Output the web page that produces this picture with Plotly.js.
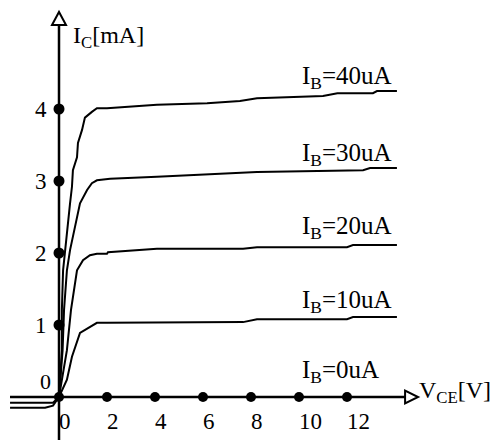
<!DOCTYPE html>
<html>
<head>
<meta charset="utf-8">
<script src="https://cdn.plot.ly/plotly-3.0.1.min.js"></script>
<style>
  html, body { margin: 0; padding: 0; background: #fff; }
  #chart { width: 493px; height: 440px; }
</style>
</head>
<body>
<div id="chart"></div>
<script>
// output characteristics, VCE [V] vs IC [mA]
const vce40 = [-2.04, -0.58, -0.25, 0, 0.12, 0.12, 0.17, 0.25, 0.46, 0.54, 0.58, 0.75, 0.79, 0.96, 1.08, 1.37, 1.58, 2.0, 4.08, 6.17, 7.54, 8.25, 11.0, 11.6, 13.08, 13.25, 14.08];
const ic40 = [-0.15, -0.15, -0.12, 0, 0.65, 1.21, 1.76, 2.04, 2.69, 2.92, 3.15, 3.33, 3.53, 3.71, 3.88, 3.96, 4.01, 4.01, 4.06, 4.08, 4.11, 4.15, 4.18, 4.22, 4.22, 4.25, 4.25];

const vce30 = [-2.04, -0.25, 0, 0.15, 0.21, 0.33, 0.46, 0.875, 1.17, 1.37, 1.58, 2.13, 4.08, 7.54, 8.25, 12.67, 12.96, 14.08];
const ic30 = [-0.08, -0.08, 0, 0.65, 1.21, 1.76, 2.04, 2.69, 2.875, 2.97, 3.01, 3.03, 3.06, 3.11, 3.125, 3.15, 3.18, 3.18];

const vce20 = [-2.04, 0, 0.33, 0.5, 0.75, 1.0, 1.29, 1.58, 2.0, 2.04, 4.08, 7.67, 8.25, 12.0, 12.25, 14.08];
const ic20 = [0, 0, 0.65, 1.21, 1.76, 1.9, 1.97, 1.99, 1.99, 2.01, 2.06, 2.06, 2.08, 2.08, 2.11, 2.11];

const vce10 = [-2.04, 0, 0.33, 0.54, 0.875, 1.21, 1.58, 2.0, 3.1, 4.08, 7.67, 8.25, 12.0, 12.25, 14.08];
const ic10 = [0, 0, 0.24, 0.56, 0.89, 0.96, 1.03, 1.03, 1.03, 1.04, 1.04, 1.08, 1.08, 1.11, 1.11];

const vce0 = [-2.04, 14.08];
const ic0 = [0, 0];

const curveNames = ['I<sub>B</sub>=40uA', 'I<sub>B</sub>=30uA', 'I<sub>B</sub>=20uA', 'I<sub>B</sub>=10uA', 'I<sub>B</sub>=0uA'];
const xTicks = [0, 2, 4, 6, 8, 10, 12];
const yTicks = [1, 2, 3, 4];

const serif = 'Liberation Serif, Times New Roman, serif';
const ink = '#000';

// pixel layout: origin at (59, 397), 24 px per volt, 72 px per mA
const xRange = [-59 / 24, 434 / 24];
const yRange = [-43 / 72, 397 / 72];
const xAxisEnd = 14.42;
const yAxisEnd = 5.167;

const curve = (x, y) => ({
  x, y,
  mode: 'lines',
  line: { color: ink, width: 2 },
  hoverinfo: 'skip'
});

const traces = [
  curve(vce40, ic40),
  curve(vce30, ic30),
  curve(vce20, ic20),
  curve(vce10, ic10),
  curve(vce0, ic0),
  {
    x: xTicks,
    y: xTicks.map(() => 0),
    mode: 'markers',
    marker: { color: ink, size: 10 },
    hoverinfo: 'skip'
  },
  {
    x: yTicks.map(() => 0),
    y: yTicks,
    mode: 'markers',
    marker: { color: ink, size: 11 },
    hoverinfo: 'skip'
  }
];

// curve labels sit at the right end, above each line
const labelY = [4.44, 3.37, 2.35, 1.32, 0.35];
const annotations = curveNames.map((t, i) => ({
  text: t,
  x: 10.05,
  y: labelY[i],
  xanchor: 'left',
  yanchor: 'middle',
  showarrow: false,
  font: { family: serif, size: 25, color: ink }
}));

// y tick numbers, right of them the dots on the axis
yTicks.forEach(v => annotations.push({
  text: String(v),
  x: 0, y: v,
  xanchor: 'right', yanchor: 'middle',
  xshift: -10,
  showarrow: false,
  font: { family: serif, size: 23, color: ink }
}));

annotations.push(
  {
    text: 'I<sub>C</sub>[mA]',
    x: 0.5, y: 5.0,
    xanchor: 'left', yanchor: 'middle',
    showarrow: false,
    font: { family: serif, size: 24, color: ink }
  },
  {
    text: 'V<sub>CE</sub>[V]',
    x: 14.92, y: 0.07,
    xanchor: 'left', yanchor: 'middle',
    showarrow: false,
    font: { family: serif, size: 24, color: ink }
  },
  {
    text: '0',
    x: -0.58, y: 0.21,
    xanchor: 'center', yanchor: 'middle',
    showarrow: false,
    font: { family: serif, size: 22, color: ink }
  }
);

const shapes = [
  // axis lines
  { type: 'line', xref: 'x', yref: 'y', x0: 0, x1: 0, y0: yRange[0], y1: yAxisEnd, line: { color: ink, width: 2.5 } },
  { type: 'line', xref: 'x', yref: 'y', x0: -2.04, x1: xAxisEnd, y0: 0, y1: 0, line: { color: ink, width: 2.5 } },
  // open arrow heads
  {
    type: 'path', xref: 'x', yref: 'y',
    xsizemode: 'pixel', ysizemode: 'pixel',
    xanchor: 0, yanchor: yAxisEnd,
    path: 'M -7,0 L 7,0 L 0,13 Z',
    fillcolor: '#fff', line: { color: ink, width: 2 }
  },
  {
    type: 'path', xref: 'x', yref: 'y',
    xsizemode: 'pixel', ysizemode: 'pixel',
    xanchor: xAxisEnd, yanchor: 0,
    path: 'M 0,-6.5 L 0,6.5 L 13,0 Z',
    fillcolor: '#fff', line: { color: ink, width: 2 }
  }
];

const layout = {
  width: 493,
  height: 440,
  margin: { l: 0, r: 0, t: 0, b: 0 },
  paper_bgcolor: '#fff',
  plot_bgcolor: '#fff',
  showlegend: false,
  hovermode: false,
  xaxis: {
    range: xRange,
    anchor: 'free',
    position: 43 / 440,
    showgrid: false,
    zeroline: false,
    showline: false,
    ticks: '',
    tickvals: xTicks,
    ticklabelposition: 'outside right',
    ticklabelstandoff: 8,
    tickfont: { family: serif, size: 23, color: ink }
  },
  yaxis: {
    range: yRange,
    showgrid: false,
    zeroline: false,
    showline: false,
    showticklabels: false,
    ticks: ''
  },
  annotations,
  shapes
};

Plotly.newPlot('chart', traces, layout, { staticPlot: true });
</script>
</body>
</html>
